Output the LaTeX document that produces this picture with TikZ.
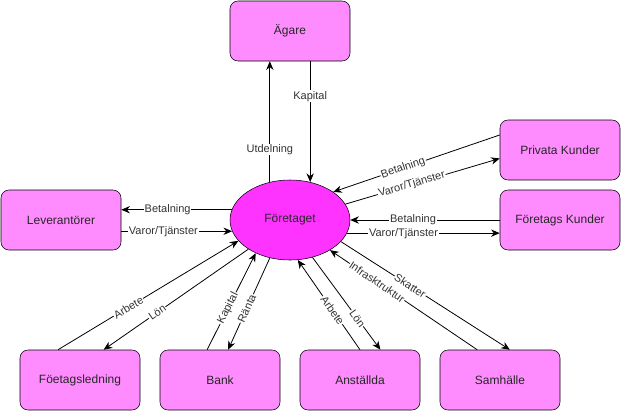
\documentclass[tikz,border=0pt]{standalone}
\usepackage{fontspec}
\setmainfont{Liberation Sans}
\usetikzlibrary{arrows.meta,shapes.geometric}
\definecolor{boxpink}{RGB}{255,140,255}
\definecolor{firmpink}{RGB}{255,51,255}
\definecolor{labelgray}{RGB}{51,51,51}

\begin{document}
\begin{tikzpicture}[x=0.75pt,y=0.75pt,
	party/.style={draw,fill=boxpink,rounded corners=6pt,minimum width=90pt,minimum height=45pt,inner sep=0.75pt,font=\fontsize{9}{11}\selectfont,text=black!85},
	firmnode/.style={ellipse,draw,fill=firmpink,minimum width=90pt,minimum height=60pt,inner sep=0.75pt,font=\fontsize{9}{11}\selectfont,text=black!85},
	flow/.style={-{Stealth[length=6.5pt,width=5.5pt]},line width=0.6pt},
	lbl/.style={fill=white,inner sep=0.6pt,font=\fontsize{8.25}{10}\selectfont,text=labelgray},
	slbl/.style={lbl,sloped}]
	\useasboundingbox (0,0) rectangle (621,-411);
	
	%Shape: Ellipse
	\node [firmnode] (firm) at (290,-220) {Företaget};
	%Shape: Rectangles
	\node [party] (ag) at (290,-31) {Ägare};
	\node [party] (lev) at (61,-220) {Leverantörer};
	\node [party] (pk) at (560,-150) {Privata Kunder};
	\node [party] (fk) at (560,-220) {Företags Kunder};
	\node [party] (fl) at (80,-380) {Föetagsledning};
	\node [party] (bk) at (220,-380) {Bank};
	\node [party] (an) at (360,-380) {Anställda};
	\node [party] (sa) at (500,-380) {Samhälle};
	
	%Straight Lines: owners
	\draw [flow] (firm.118) -- (firm.118 |- ag.south) node [lbl,pos=0.27] {Utdelning};
	\draw [flow] (firm.62 |- ag.south) -- (firm.62) node [lbl,pos=0.29] {Kapital};
	%Straight Lines: suppliers
	\draw [flow] (firm.170) -- (firm.170 -| lev.east) node [lbl,pos=0.58] {Betalning};
	\draw [flow] (firm.191 -| lev.east) -- (firm.191) node [lbl,pos=0.38] {Varor/Tjänster};
	%Straight Lines: customers
	\draw [flow] (pk.166) -- (firm.33) node [slbl,pos=0.58] {Betalning};
	\draw [flow] (firm.16) -- (pk.188) node [slbl,pos=0.43] {Varor/Tjänster};
	\draw [flow] (fk.west) -- (firm.east) node [lbl,pos=0.58] {Betalning};
	\draw [flow] (firm.347) -- (firm.347 -| fk.west) node [lbl,pos=0.37] {Varor/Tjänster};
	%Straight Lines: management
	\draw [flow] (fl.126) -- (firm.202) node [slbl,pos=0.39] {Arbete};
	\draw [flow] (firm.215) -- (fl.52) node [slbl,pos=0.63] {Lön};
	%Straight Lines: bank
	\draw [flow] (bk.113) -- (firm.224) node [slbl,pos=0.43] {Kapital};
	\draw [flow] (firm.242) -- (bk.75) node [slbl,pos=0.55] {Ränta};
	%Straight Lines: employees
	\draw [flow] (an.north) -- (firm.281) node [slbl,pos=0.44] {Arbete};
	\draw [flow] (firm.301) -- (an.56) node [slbl,pos=0.66] {Lön};
	%Straight Lines: society
	\draw [flow] (sa.127) -- (firm.323) node [slbl,pos=0.68] {Infrasktruktur};
	\draw [flow] (firm.337) -- (sa.72) node [slbl,pos=0.41] {Skatter};
	
\end{tikzpicture}
\end{document}
